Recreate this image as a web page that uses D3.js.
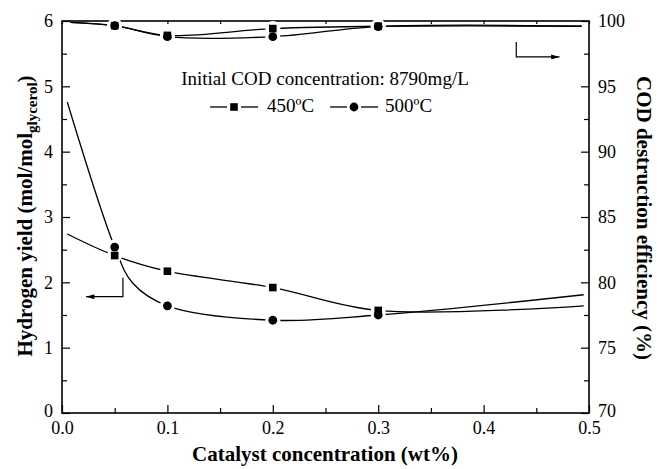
<!DOCTYPE html>
<html>
<head>
<meta charset="utf-8">
<script src="https://cdn.jsdelivr.net/npm/d3@7/dist/d3.min.js"></script>
<style>
  html, body { margin: 0; padding: 0; background: #fff; }
  svg { display: block; }
  svg text { font-family: "Liberation Serif", "Times New Roman", serif; fill: #000; }
</style>
</head>
<body>
<svg id="chart" width="657" height="469"></svg>
<script>
// Catalyst loadings (wt%) where runs were made
const catalyst = [0.05, 0.1, 0.2, 0.3];

// Hydrogen yield, mol H2 per mol glycerol
const h2Yield450 = [2.41, 2.17, 1.92, 1.57];
const h2Yield500 = [2.54, 1.64, 1.42, 1.50];

// COD destruction efficiency, %
const cod450 = [99.64, 98.9, 99.42, 99.6];
const cod500 = [99.64, 98.8, 98.8, 99.57];

// Fitted trend curves: [wt%, value] nodes
const h2Fit450 = [[0.005, 2.74], [0.05, 2.41], [0.1, 2.17], [0.2, 1.92], [0.3, 1.57], [0.495, 1.64]];
const h2Fit500 = [[0.005, 4.76], [0.05, 2.54], [0.067, 1.99], [0.1, 1.64], [0.2, 1.42], [0.3, 1.50], [0.495, 1.81]];
const codFit450 = [[0.008, 99.9], [0.05, 99.64], [0.1, 98.9], [0.2, 99.42], [0.3, 99.6], [0.493, 99.6]];
const codFit500 = [[0.008, 99.9], [0.05, 99.64], [0.1, 98.8], [0.2, 98.8], [0.3, 99.57], [0.493, 99.6]];

// Axis ticks
const xMajor = [0, 0.1, 0.2, 0.3, 0.4, 0.5];
const xMinor = [0.05, 0.15, 0.25, 0.35, 0.45];
const yLeftMajor = [0, 1, 2, 3, 4, 5, 6];
const yRightMajor = [70, 75, 80, 85, 90, 95, 100];

const legendTitle = "Initial COD concentration: 8790mg/L";
const seriesNames = ["450ºC", "500ºC"];

const FONT = '"Liberation Serif", "Times New Roman", serif';
const svg = d3.select("#chart");
const L = 62, R = 589, T = 21, B = 413;

const x = d3.scaleLinear().domain([0, 0.5]).range([L, R]);
const yL = d3.scaleLinear().domain([0, 6]).range([B, T]);
const yR = d3.scaleLinear().domain([70, 100]).range([B, T]);

const fmt1 = d3.format(".1f");

function styleAxis(g) {
  g.attr("font-family", null).attr("font-size", null);
  g.select(".domain").remove();
  g.selectAll("line").attr("stroke", "#000").attr("stroke-width", 1.2);
  g.selectAll("text").style("font-family", FONT).style("font-size", "18px");
}

// Bottom axis: long ticks with labels, short minor ticks
svg.append("g").attr("transform", `translate(0,${B})`)
  .call(d3.axisBottom(x).tickValues(xMajor).tickFormat(fmt1).tickSize(-8).tickPadding(8))
  .call(styleAxis);
svg.append("g").attr("transform", `translate(0,${B})`)
  .call(d3.axisBottom(x).tickValues(xMinor).tickFormat("").tickSize(-5))
  .call(styleAxis);
// Top axis: small ticks only
svg.append("g").attr("transform", `translate(0,${T})`)
  .call(d3.axisTop(x).tickValues(xMajor.concat(xMinor)).tickFormat("").tickSize(-3))
  .call(styleAxis);

// Left axis
const leftAxis = svg.append("g").attr("transform", `translate(${L},0)`)
  .call(d3.axisLeft(yL).tickValues(yLeftMajor).tickFormat(d3.format("d")).tickSize(-8).tickPadding(9))
  .call(styleAxis);
svg.append("g").attr("transform", `translate(${L},0)`)
  .call(d3.axisLeft(yL).tickValues(yLeftMajor.slice(0, -1).map(v => v + 0.5)).tickFormat("").tickSize(-5))
  .call(styleAxis);

// Right axis
const rightAxis = svg.append("g").attr("transform", `translate(${R},0)`)
  .call(d3.axisRight(yR).tickValues(yRightMajor).tickFormat(d3.format("d")).tickSize(-8).tickPadding(9))
  .call(styleAxis);
svg.append("g").attr("transform", `translate(${R},0)`)
  .call(d3.axisRight(yR).tickValues(yRightMajor.slice(0, -1).map(v => v + 2.5)).tickFormat("").tickSize(-5))
  .call(styleAxis);

// Corner labels sit a touch higher so they clear the x labels
leftAxis.selectAll(".tick text").filter(d => d === 0).attr("dy", "0.2em");
rightAxis.selectAll(".tick text").filter(d => d === 70).attr("dy", "0.2em");

// Frame
svg.append("rect").attr("x", L).attr("y", T).attr("width", R - L).attr("height", B - T)
  .attr("fill", "none").attr("stroke", "#000").attr("stroke-width", 1.6);

const line = (ys) => d3.line().x(d => x(d[0])).y(d => ys(d[1])).curve(d3.curveCatmullRom.alpha(0.5));
const plot = svg.append("g");

function drawCurve(nodes, ys) {
  plot.append("path").datum(nodes).attr("d", line(ys))
    .attr("fill", "none").attr("stroke", "#000").attr("stroke-width", 1.3);
}
function drawHalo(xs, vals, ys, r) {
  plot.append("g").selectAll("circle").data(xs).join("circle")
    .attr("cx", d => x(d)).attr("cy", (d, i) => ys(vals[i])).attr("r", r).attr("fill", "#fff");
}
function drawSquares(xs, vals, ys) {
  plot.append("g").selectAll("rect").data(xs).join("rect")
    .attr("x", d => x(d) - 3.8).attr("y", (d, i) => ys(vals[i]) - 3.8)
    .attr("width", 7.6).attr("height", 7.6).attr("fill", "#000");
}
function drawCircles(xs, vals, ys) {
  plot.append("g").selectAll("circle").data(xs).join("circle")
    .attr("cx", d => x(d)).attr("cy", (d, i) => ys(vals[i])).attr("r", 4.4).attr("fill", "#000");
}

// Hydrogen yield (left axis) and COD destruction (right axis)
drawCurve(h2Fit450, yL);
drawCurve(h2Fit500, yL);
drawCurve(codFit450, yR);
drawCurve(codFit500, yR);

drawHalo(catalyst, h2Yield450, yL, 7.5);
drawHalo(catalyst, h2Yield500, yL, 7.5);
drawHalo(catalyst, cod450, yR, 7.5);
drawHalo(catalyst, cod500, yR, 7.5);

drawSquares(catalyst, h2Yield450, yL);
drawCircles(catalyst, h2Yield500, yL);
drawSquares(catalyst, cod450, yR);
drawCircles(catalyst, cod500, yR);

// Axis-pointer arrows (data units)
const arrowLeft = { x: 0.0578, yTop: 2.07, yBot: 1.78, xEnd: 0.0228 };
const arrowRight = { x: 0.431, yTop: 98.4, yBot: 97.25, xEnd: 0.472 };

svg.append("defs").append("marker")
  .attr("id", "head").attr("viewBox", "0 0 10 6").attr("refX", 10).attr("refY", 3)
  .attr("markerWidth", 9).attr("markerHeight", 5).attr("markerUnits", "userSpaceOnUse")
  .attr("orient", "auto")
  .append("path").attr("d", "M0,0 L10,3 L0,6 Z").attr("fill", "#000");

svg.append("path")
  .attr("d", d3.line()([[x(arrowLeft.x), yL(arrowLeft.yTop)], [x(arrowLeft.x), yL(arrowLeft.yBot)], [x(arrowLeft.xEnd), yL(arrowLeft.yBot)]]))
  .attr("fill", "none").attr("stroke", "#000").attr("stroke-width", 1.2).attr("marker-end", "url(#head)");
svg.append("path")
  .attr("d", d3.line()([[x(arrowRight.x), yR(arrowRight.yTop)], [x(arrowRight.x), yR(arrowRight.yBot)], [x(arrowRight.xEnd), yR(arrowRight.yBot)]]))
  .attr("fill", "none").attr("stroke", "#000").attr("stroke-width", 1.2).attr("marker-end", "url(#head)");

// Legend
const leg = svg.append("g");
leg.append("text").attr("x", 325).attr("y", 85).attr("text-anchor", "middle")
  .style("font-size", "19px").text(legendTitle);

const legRows = [
  { x0: 210, name: seriesNames[0], shape: "square" },
  { x0: 330, name: seriesNames[1], shape: "circle" }
];
const ly = 107;
legRows.forEach(r => {
  const g = leg.append("g").attr("transform", `translate(${r.x0},${ly})`);
  g.append("line").attr("x1", 0).attr("x2", 17).attr("y1", 0).attr("y2", 0).attr("stroke", "#000").attr("stroke-width", 1.3);
  g.append("line").attr("x1", 31).attr("x2", 48).attr("y1", 0).attr("y2", 0).attr("stroke", "#000").attr("stroke-width", 1.3);
  if (r.shape === "square") {
    g.append("rect").attr("x", 24 - 3.8).attr("y", -3.8).attr("width", 7.6).attr("height", 7.6).attr("fill", "#000");
  } else {
    g.append("circle").attr("cx", 24).attr("cy", 0).attr("r", 4.4).attr("fill", "#000");
  }
  g.append("text").attr("x", r.shape === "square" ? 57 : 55).attr("y", 5).style("font-size", "19px").text(r.name);
});

// Axis titles
svg.append("text").attr("x", 325).attr("y", 461).attr("text-anchor", "middle")
  .style("font-size", "21px").style("font-weight", "bold").text("Catalyst concentration (wt%)");

const yt = svg.append("text").attr("transform", "translate(32,216) rotate(-90)")
  .attr("text-anchor", "middle").style("font-size", "21px").style("font-weight", "bold");
yt.append("tspan").text("Hydrogen yield (mol/mol");
yt.append("tspan").attr("dy", 5).style("font-size", "15px").text("glycerol");
yt.append("tspan").attr("dy", -5).text(")");

svg.append("text").attr("transform", "translate(637,218) rotate(90)")
  .attr("text-anchor", "middle").style("font-size", "21px").style("font-weight", "bold")
  .text("COD destruction efficiency (%)");
</script>
</body>
</html>
